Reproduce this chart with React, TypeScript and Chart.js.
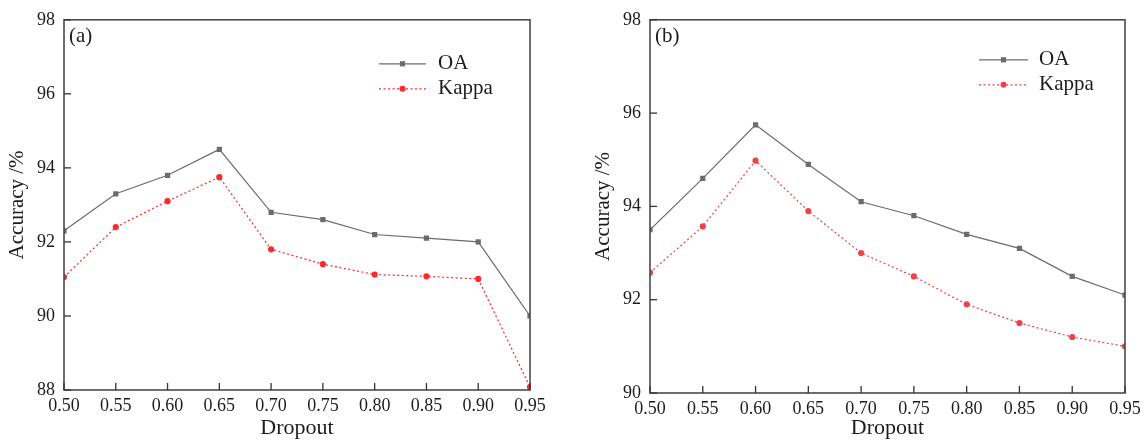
import React, { useEffect, useRef } from "react";
import { Chart, registerables } from "chart.js";
Chart.register(...registerables);

// ---- data ----
const dropout = [0.5, 0.55, 0.6, 0.65, 0.7, 0.75, 0.8, 0.85, 0.9, 0.95];
const oaA = [92.3, 93.3, 93.8, 94.5, 92.8, 92.6, 92.2, 92.1, 92.0, 90.0];
const kappaA = [91.05, 92.4, 93.1, 93.75, 91.8, 91.4, 91.12, 91.07, 91.0, 88.08];
const oaB = [93.5, 94.6, 95.75, 94.9, 94.1, 93.8, 93.4, 93.1, 92.5, 92.1];
const kappaB = [92.58, 93.57, 94.98, 93.9, 93.0, 92.5, 91.9, 91.5, 91.2, 91.0];
const yTicksA = [88, 90, 92, 94, 96, 98];
const yTicksB = [90, 92, 94, 96, 98];
const seriesNames = ["OA", "Kappa"];
const panelLabels = ["(a)", "(b)"];
const xTitle = "Dropout";
const yTitle = "Accuracy /%";

const FONT = '"Liberation Serif", "Times New Roman", serif';
const TEXT = "#1c1c1c";
const GRAY = "#6c6c6c";

type PanelProps = {
  left: number;
  width: number;
  oa: number[];
  kappa: number[];
  yTicks: number[];
  label: string;
  kappaColor: string;
  padLeft: number;
  padRight: number;
  xHeight: number;
  legLineStart: number; // offset from chart area right
  legLineEnd: number;
  legText: number;
  legTop: number; // offset from chart area top
};

function makeFramePlugin(p: PanelProps) {
  return {
    id: "frameAndLegend",
    afterDraw(chart: any) {
      const { ctx, chartArea: a, scales } = chart;
      ctx.save();
      // frame
      ctx.strokeStyle = "#4a4a4a";
      ctx.lineWidth = 1.6;
      ctx.strokeRect(a.left, a.top, a.right - a.left, a.bottom - a.top);
      // inward ticks
      ctx.lineWidth = 1.3;
      ctx.strokeStyle = "#333";
      scales.x.ticks.forEach((t: any) => {
        const x = scales.x.getPixelForValue(t.value);
        ctx.beginPath();
        ctx.moveTo(x, a.bottom);
        ctx.lineTo(x, a.bottom - 7);
        ctx.stroke();
      });
      scales.y.ticks.forEach((t: any) => {
        const y = scales.y.getPixelForValue(t.value);
        ctx.beginPath();
        ctx.moveTo(a.left, y);
        ctx.lineTo(a.left + 7, y);
        ctx.stroke();
      });
      // panel label
      ctx.fillStyle = TEXT;
      ctx.font = `21px ${FONT}`;
      ctx.textBaseline = "middle";
      ctx.textAlign = "left";
      ctx.fillText(p.label, a.left + 5, a.top + 17);
      // legend
      chart.data.datasets.forEach((ds: any, i: number) => {
        const y = a.top + p.legTop + i * 25;
        const x0 = a.right - p.legLineStart;
        const x1 = a.right - p.legLineEnd;
        ctx.strokeStyle = ds.borderColor;
        ctx.lineWidth = ds.borderWidth;
        ctx.setLineDash(ds.borderDash || []);
        ctx.beginPath();
        ctx.moveTo(x0, y);
        ctx.lineTo(x1, y);
        ctx.stroke();
        ctx.setLineDash([]);
        ctx.fillStyle = ds.pointBackgroundColor;
        const xm = (x0 + x1) / 2;
        if (ds.pointStyle === "rect") {
          ctx.fillRect(xm - 2.6, y - 2.6, 5.2, 5.2);
        } else {
          ctx.beginPath();
          ctx.arc(xm, y, 3, 0, Math.PI * 2);
          ctx.fill();
        }
        ctx.fillStyle = TEXT;
        ctx.font = `21px ${FONT}`;
        ctx.fillText(ds.label, a.right - p.legText, y);
      });
      ctx.restore();
    },
  };
}

function Panel(p: PanelProps) {
  const ref = useRef<HTMLCanvasElement>(null);
  useEffect(() => {
    if (!ref.current) return;
    const chart = new Chart(ref.current, {
      type: "line",
      data: {
        datasets: [
          {
            label: seriesNames[0],
            data: dropout.map((x, i) => ({ x, y: p.oa[i] })),
            borderColor: GRAY,
            borderWidth: 1.2,
            pointStyle: "rect",
            pointRadius: 3.7,
            pointBackgroundColor: GRAY,
            pointBorderWidth: 0,
            tension: 0,
          },
          {
            label: seriesNames[1],
            data: dropout.map((x, i) => ({ x, y: p.kappa[i] })),
            borderColor: p.kappaColor,
            borderWidth: 1.2,
            borderDash: [2, 2.5],
            pointStyle: "circle",
            pointRadius: 3.1,
            pointBackgroundColor: p.kappaColor,
            pointBorderWidth: 0,
            tension: 0,
          },
        ],
      },
      options: {
        responsive: false,
        animation: false,
        events: [],
        layout: { padding: { left: p.padLeft, right: p.padRight, top: 12, bottom: 0 } },
        plugins: { legend: { display: false }, tooltip: { enabled: false } },
        scales: {
          x: {
            type: "linear",
            min: dropout[0],
            max: dropout[dropout.length - 1],
            afterBuildTicks: (s: any) => {
              s.ticks = dropout.map((v) => ({ value: v }));
            },
            ticks: {
              callback: (v: any) => Number(v).toFixed(2),
              font: { family: FONT, size: 18 },
              color: TEXT,
              padding: 5,
              maxRotation: 0,
              autoSkip: false,
            },
            grid: { display: false, drawTicks: false },
            border: { display: false },
            title: {
              display: true,
              text: xTitle,
              font: { family: FONT, size: 22 },
              color: TEXT,
              padding: { top: 0, bottom: 6 },
            },
            afterFit: (s: any) => {
              s.height = p.xHeight;
            },
          },
          y: {
            type: "linear",
            min: p.yTicks[0],
            max: p.yTicks[p.yTicks.length - 1],
            afterBuildTicks: (s: any) => {
              s.ticks = p.yTicks.map((v) => ({ value: v }));
            },
            ticks: {
              callback: (v: any) => String(v),
              font: { family: FONT, size: 18 },
              color: TEXT,
              padding: 9,
              autoSkip: false,
            },
            grid: { display: false, drawTicks: false },
            border: { display: false },
            title: {
              display: true,
              text: yTitle,
              font: { family: FONT, size: 21 },
              color: TEXT,
              padding: { top: 5, bottom: 0 },
            },
            afterFit: (s: any) => {
              s.width = 64;
            },
          },
        },
      },
      plugins: [makeFramePlugin(p)],
    } as any);
    return () => chart.destroy();
  }, []);
  return (
    <canvas
      ref={ref}
      width={p.width}
      height={447}
      style={{ position: "absolute", left: p.left, top: 0, width: p.width, height: 447 }}
    />
  );
}

export default function App() {
  return (
    <div
      style={{
        position: "fixed",
        left: 0,
        top: 0,
        width: 1147,
        height: 447,
        background: "#fff",
        overflow: "hidden",
      }}
    >
      <Panel
        left={0}
        width={560}
        oa={oaA}
        kappa={kappaA}
        yTicks={yTicksA}
        label={panelLabels[0]}
        kappaColor="#fa2a2e"
        padLeft={0}
        padRight={30}
        xHeight={57}
        legLineStart={151}
        legLineEnd={104}
        legText={92}
        legTop={44}
      />
      <Panel
        left={560}
        width={587}
        oa={oaB}
        kappa={kappaB}
        yTicks={yTicksB}
        label={panelLabels[1]}
        kappaColor="#e9434d"
        padLeft={26}
        padRight={22}
        xHeight={54}
        legLineStart={146}
        legLineEnd={97}
        legText={86}
        legTop={40}
      />
    </div>
  );
}
